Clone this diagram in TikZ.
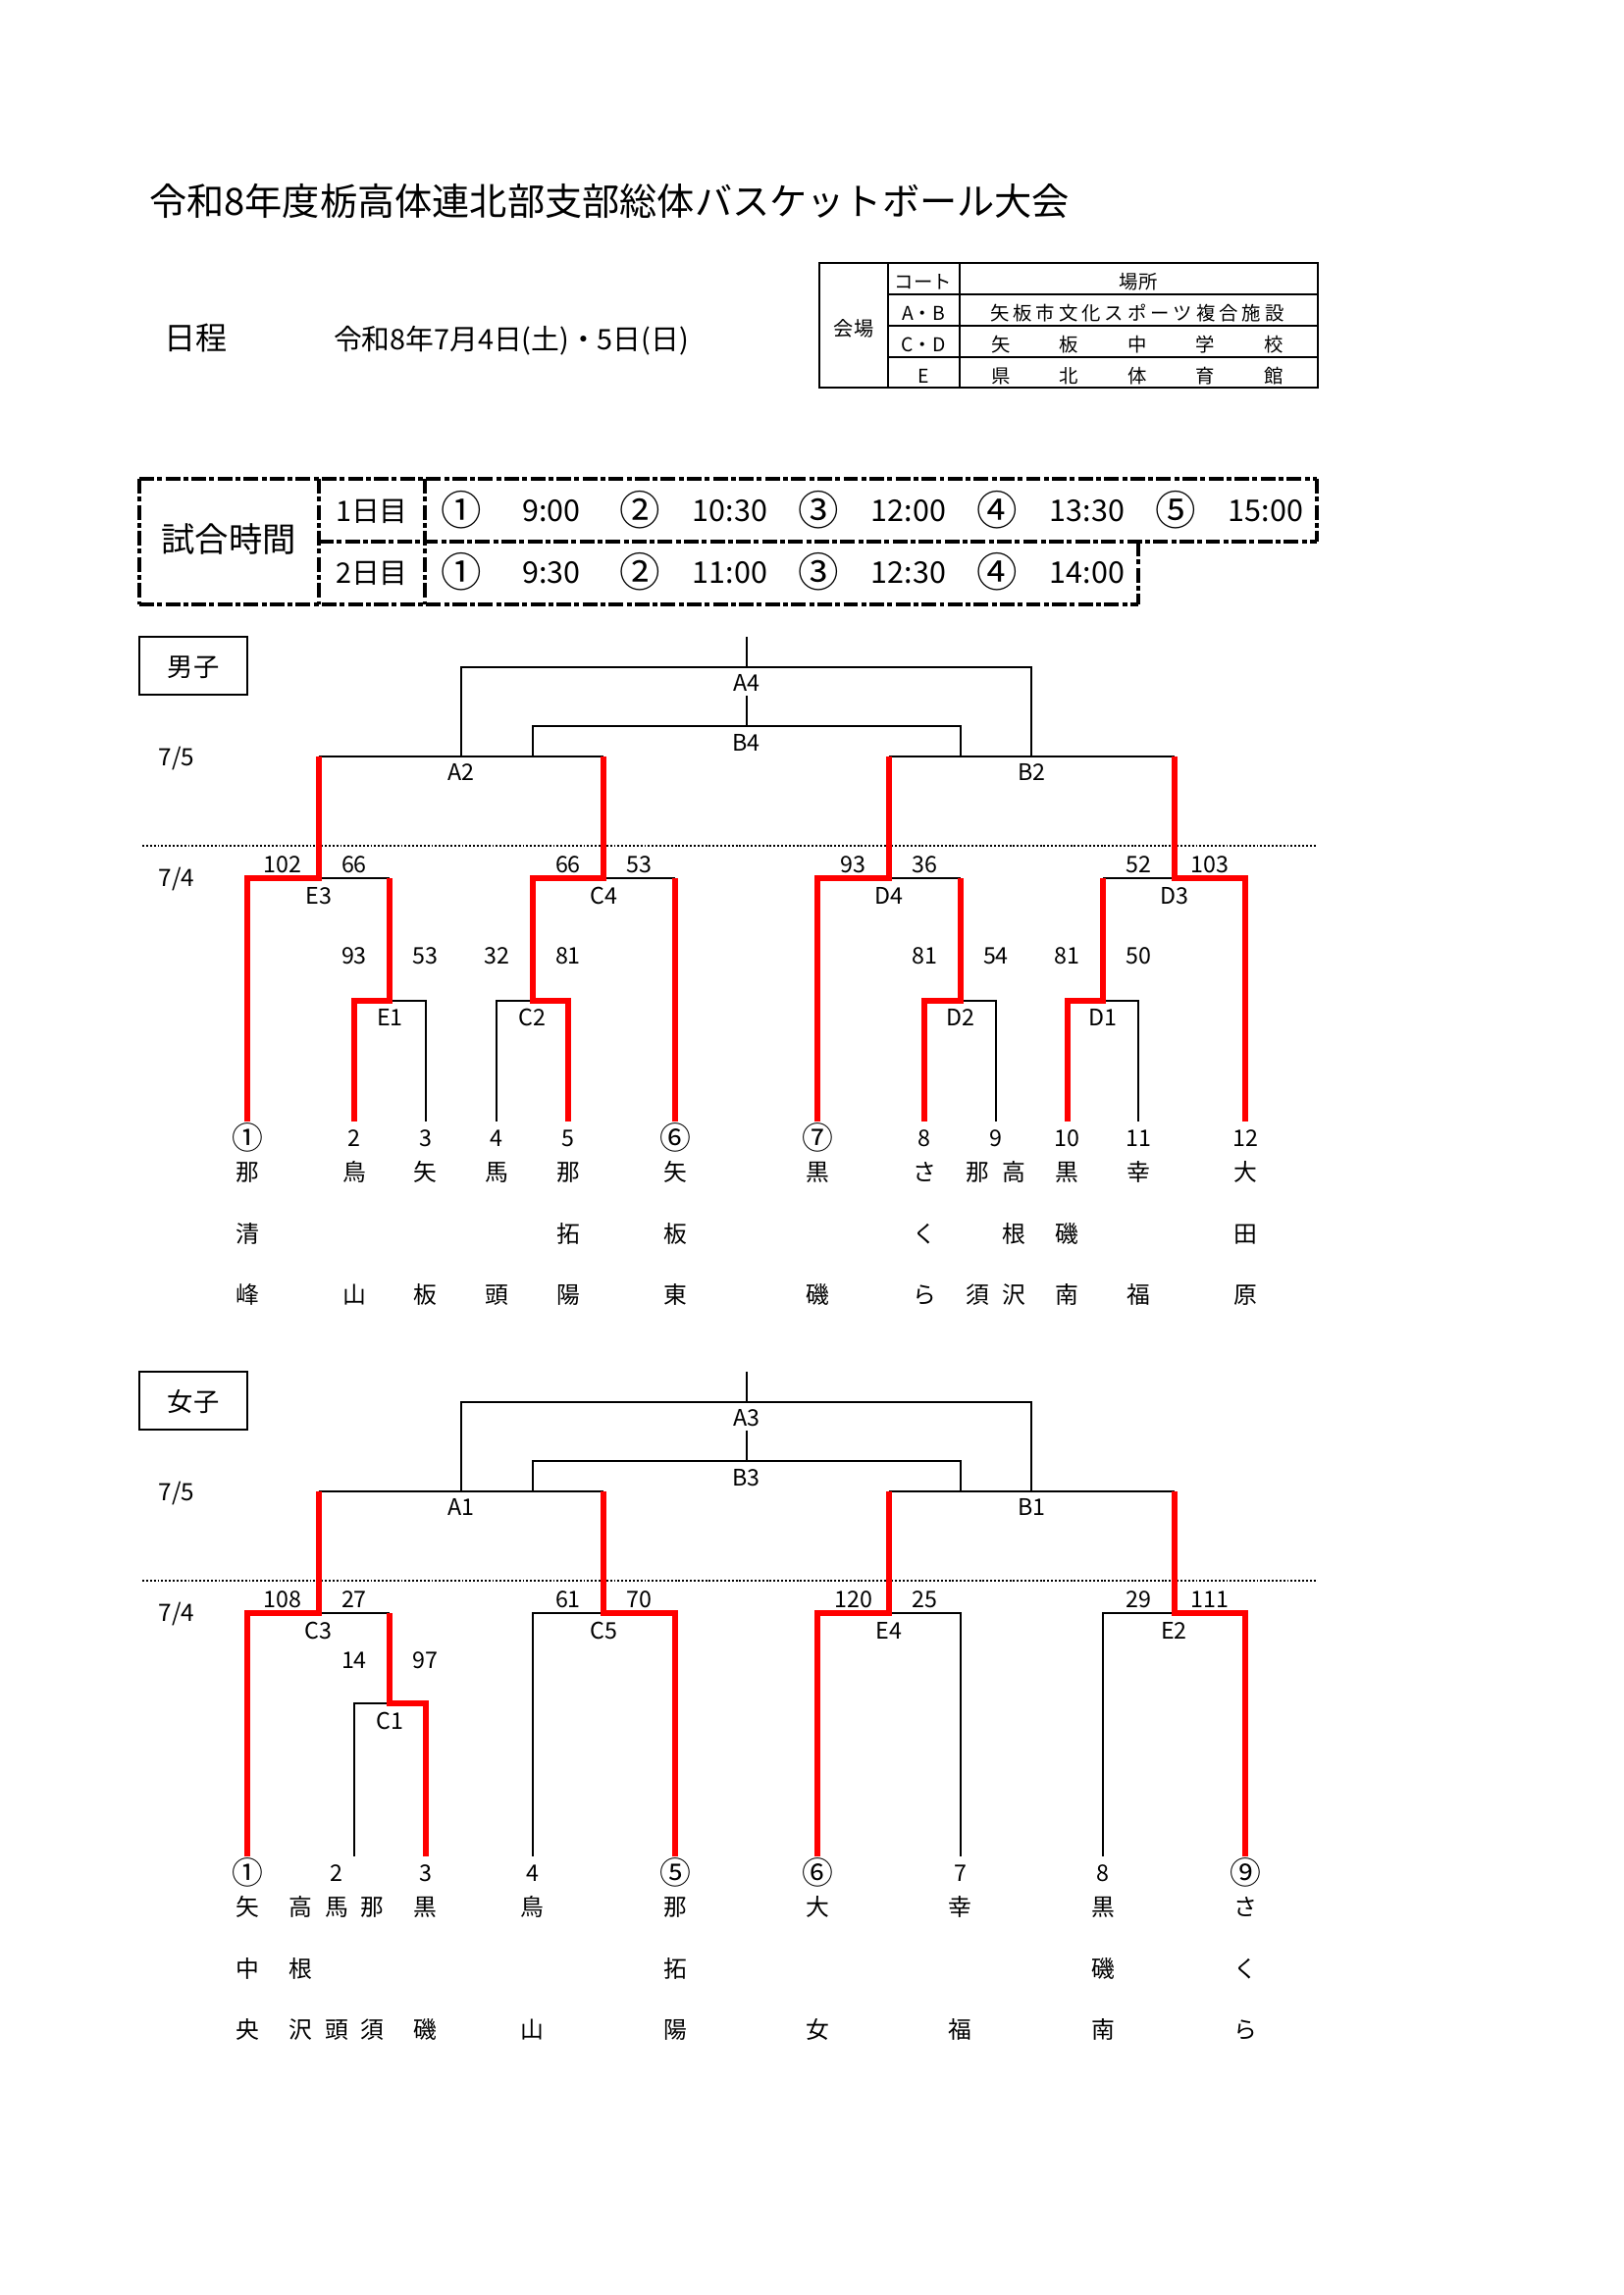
\documentclass[tikz,border=0pt]{standalone}
\usepackage{fontspec}
\setmainfont{Noto Sans CJK JP}
\definecolor{wred}{RGB}{255,0,0}
\newcommand\setfs[1]{\fontsize{#1}{#1}\selectfont}
\tikzset{
  tx/.style={inner sep=0pt, outer sep=0pt, text height=0.74em, text depth=0pt},
  lab/.style={tx, font=\setfs{8.4}},
  cir/.style={tx, font=\setfs{11.5}, yshift=-1.3pt},
  nm/.style={tx, font=\setfs{8.6}},
  tb/.style={tx, font=\setfs{7}},
  sc/.style={tx, font=\setfs{11}},
  cn/.style={tx, font=\setfs{15}, yshift=-1.5pt},
  blk/.style={line width=0.8pt, draw=black},
  rd/.style={line width=2.1pt, draw=wred, line join=miter},
  dsh/.style={line width=1.4pt, dash pattern=on 5.4pt off 1.2pt on 1.8pt off 1.2pt},
  dotl/.style={line width=0.6pt, dash pattern=on 0.7pt off 0.7pt},
}
\begin{document}
\begin{tikzpicture}[x=0.12697mm,y=-0.12697mm]
\useasboundingbox[fill=white] (0,0) rectangle (1654,2339);

% ---------- header ----------
\node[tx, anchor=west, font=\setfs{13.8}] (title) at (152,209) {令和8年度栃高体連北部支部総体バスケットボール大会};
\node[tx, anchor=west, font=\setfs{11.6}] (nittei) at (167,346) {日程};
\node[tx, anchor=west, font=\setfs{10.4}] (date) at (340,346) {令和8年7月4日(土)・5日(日)};

% ---------- venue table ----------
\draw[line width=0.9pt] (835,268) rectangle (1343,395);
\draw[line width=0.6pt] (905,268) -- (905,395);
\draw[line width=0.6pt] (978,268) -- (978,395);
\foreach \y in {300,332,364} \draw[line width=0.6pt] (905,\y) -- (1343,\y);
\node[tb, font=\setfs{7.3}] (kaijo) at (870,332) {会場};
\node[tb] (court) at (941,284) {コート};
\node[tb] (basho) at (1160,284) {場所};
\node[tb] (ab) at (941,316) {A・B};
\node[tb] (cd) at (941,348) {C・D};
\node[tb] (ee) at (941,380) {E};
\foreach \c [count=\i from 0] in {矢,板,市,文,化,ス,ポ,ー,ツ,複,合,施,設}
  \node[tb] (vab\i) at ({1019+23.33*\i},316) {\c};
\foreach \c [count=\i from 0] in {矢,板,中,学,校}
  \node[tb] (vcd\i) at ({1020+69.5*\i},348) {\c};
\foreach \c [count=\i from 0] in {県,北,体,育,館}
  \node[tb] (ve\i) at ({1020+69.5*\i},380) {\c};

% ---------- schedule box ----------
\draw[dsh] (142,488) -- (1342,488);
\draw[dsh] (1342,488) -- (1342,552);
\draw[dsh] (325,552) -- (1342,552);
\draw[dsh] (1160,552) -- (1160,616);
\draw[dsh] (142,616) -- (1160,616);
\draw[dsh] (142,488) -- (142,616);
\draw[dsh] (325,488) -- (325,616);
\draw[dsh] (433,488) -- (433,616);
\node[tx, font=\setfs{12.4}] (shiai) at (233,552) {試合時間};
\node[sc, font=\setfs{10.4}] (day1) at (379,521) {1日目};
\node[sc, font=\setfs{10.4}] (day2) at (379,584) {2日目};
\foreach \x/\t [count=\n] in {470/①,652/②,834/③,1016/④,1198/⑤}
  \node[cn] (d1c\n) at (\x,521) {\t};
\foreach \x/\t [count=\n] in {562/9:00,744/10:30,926/12:00,1108/13:30,1290/15:00}
  \node[sc] (d1t\n) at (\x,521) {\t};
\foreach \x/\t [count=\n] in {470/①,652/②,834/③,1016/④}
  \node[cn] (d2c\n) at (\x,584) {\t};
\foreach \x/\t [count=\n] in {562/9:30,744/11:00,926/12:30,1108/14:00}
  \node[sc] (d2t\n) at (\x,584) {\t};

% ---------- column coordinates ----------
\foreach \i in {0,...,28} \coordinate (c\i) at ({252+36.33*\i},0);

% ================= MEN =================
\draw[line width=0.9pt] (142,649) rectangle (252,708);
\node[tx, font=\setfs{9.5}] (boys) at (197,679) {男子};
\node[lab, font=\setfs{8.8}] (m75) at (180,770) {7/5};
\node[lab, font=\setfs{8.8}] (m74) at (180,893) {7/4};
\draw[dotl] (145,862) -- (1342,862);

\coordinate (mS0) at (0,649);
\coordinate (mA4) at (0,680);
\coordinate (mS1) at (0,709);
\coordinate (mB4) at (0,740);
\coordinate (mR3) at (0,771);
\coordinate (mR2) at (0,895);
\coordinate (mR1) at (0,1020);
\coordinate (mLf) at (0,1143);

\draw[blk] (c14|-mS0) -- (c14|-mA4);
\draw[blk] (c6|-mR3) |- (c22|-mA4) -- (c22|-mR3);
\draw[blk] (c14|-mS1) -- (c14|-mB4);
\draw[blk] (c8|-mR3) |- (c20|-mB4) -- (c20|-mR3);
\draw[blk] (c2|-mR3) -- (c10|-mR3);
\draw[blk] (c18|-mR3) -- (c26|-mR3);
\draw[blk] (c2|-mR2) -- (c4|-mR2);
\draw[blk] (c10|-mR2) -- (c12|-mR2);
\draw[blk] (c18|-mR2) -- (c20|-mR2);
\draw[blk] (c24|-mR2) -- (c26|-mR2);
\draw[blk] (c4|-mR1) -| (c5|-mLf);
\draw[blk] (c8|-mR1) -| (c7|-mLf);
\draw[blk] (c20|-mR1) -| (c21|-mLf);
\draw[blk] (c24|-mR1) -| (c25|-mLf);

\draw[rd] (c0|-mLf) |- (c2|-mR2) -- (c2|-mR3);
\draw[rd] (c3|-mLf) |- (c4|-mR1) -- (c4|-mR2);
\draw[rd] (c9|-mLf) |- (c8|-mR1) |- (c10|-mR2) -- (c10|-mR3);
\draw[rd] (c12|-mLf) -- (c12|-mR2);
\draw[rd] (c16|-mLf) |- (c18|-mR2) -- (c18|-mR3);
\draw[rd] (c19|-mLf) |- (c20|-mR1) -- (c20|-mR2);
\draw[rd] (c23|-mLf) |- (c24|-mR1) -- (c24|-mR2);
\draw[rd] (c28|-mLf) |- (c26|-mR2) -- (c26|-mR3);

\node[lab] (mlA4) at (c14|-0,694) {A4};
\node[lab] (mlB4) at (c14|-0,755) {B4};
\node[lab] (mlA2) at (c6|-0,785) {A2};
\node[lab] (mlB2) at (c22|-0,785) {B2};
\foreach \k/\t [count=\n] in {2/E3,10/C4,18/D4,26/D3}
  \node[lab] (mq\n) at (c\k|-0,911) {\t};
\foreach \k/\t [count=\n] in {4/E1,8/C2,20/D2,24/D1}
  \node[lab] (mr\n) at (c\k|-0,1035) {\t};
\foreach \k/\s [count=\n] in {1/102,3/66,9/66,11/53,17/93,19/36,25/52,27/103}
  \node[lab] (msq\n) at (c\k|-0,879) {\s};
\foreach \k/\s [count=\n] in {3/93,5/53,7/32,9/81,19/81,21/54,23/81,25/50}
  \node[lab] (msr\n) at (c\k|-0,972) {\s};

\foreach \x/\t [count=\n] in {361/2,433.7/3,506.3/4,579/5,942.3/8,1014.9/9,1087.6/10,1160.3/11,1269.2/12}
  \node[lab] (mnum\n) at (\x,1158) {\t};
\foreach \x/\t [count=\n] in {252/①,688/⑥,833.3/⑦}
  \node[cir] (mcir\n) at (\x,1158) {\t};
\foreach \x/\a/\b/\c [count=\n] in {252/那/清/峰,361/鳥//山,433.7/矢//板,506.3/馬//頭,579/那/拓/陽,688/矢/板/東,833.3/黒//磯,942.3/さ/く/ら,996.6/那//須,1033/高/根/沢,1087.6/黒/磯/南,1160.3/幸//福,1269.2/大/田/原}
{
  \node[nm] (mta\n) at (\x,1193) {\a};
  \node[nm] (mtb\n) at (\x,1256) {\b};
  \node[nm] (mtc\n) at (\x,1318) {\c};
}

% ================= WOMEN =================
\draw[line width=0.9pt] (142,1398) rectangle (252,1457);
\node[tx, font=\setfs{9.5}] (girls) at (197,1428) {女子};
\node[lab, font=\setfs{8.8}] (w75) at (180,1519) {7/5};
\node[lab, font=\setfs{8.8}] (w74) at (180,1642) {7/4};
\draw[dotl] (145,1611) -- (1342,1611);

\coordinate (wS0) at (0,1398);
\coordinate (wA3) at (0,1429);
\coordinate (wS1) at (0,1458);
\coordinate (wB3) at (0,1489);
\coordinate (wR3) at (0,1520);
\coordinate (wR2) at (0,1644);
\coordinate (wR1) at (0,1736);
\coordinate (wLf) at (0,1892);

\draw[blk] (c14|-wS0) -- (c14|-wA3);
\draw[blk] (c6|-wR3) |- (c22|-wA3) -- (c22|-wR3);
\draw[blk] (c14|-wS1) -- (c14|-wB3);
\draw[blk] (c8|-wR3) |- (c20|-wB3) -- (c20|-wR3);
\draw[blk] (c2|-wR3) -- (c10|-wR3);
\draw[blk] (c18|-wR3) -- (c26|-wR3);
\draw[blk] (c2|-wR2) -- (c4|-wR2);
\draw[blk] (c10|-wR2) -| (c8|-wLf);
\draw[blk] (c18|-wR2) -| (c20|-wLf);
\draw[blk] (c26|-wR2) -| (c24|-wLf);
\draw[blk] (c4|-wR1) -| (c3|-wLf);

\draw[rd] (c0|-wLf) |- (c2|-wR2) -- (c2|-wR3);
\draw[rd] (c5|-wLf) |- (c4|-wR1) -- (c4|-wR2);
\draw[rd] (c12|-wLf) |- (c10|-wR2) -- (c10|-wR3);
\draw[rd] (c16|-wLf) |- (c18|-wR2) -- (c18|-wR3);
\draw[rd] (c28|-wLf) |- (c26|-wR2) -- (c26|-wR3);

\node[lab] (wlA3) at (c14|-0,1443) {A3};
\node[lab] (wlB3) at (c14|-0,1504) {B3};
\node[lab] (wlA1) at (c6|-0,1534) {A1};
\node[lab] (wlB1) at (c22|-0,1534) {B1};
\foreach \k/\t [count=\n] in {2/C3,10/C5,18/E4,26/E2}
  \node[lab] (wq\n) at (c\k|-0,1660) {\t};
\node[lab] (wC1) at (c4|-0,1752) {C1};
\foreach \k/\s [count=\n] in {1/108,3/27,9/61,11/70,17/120,19/25,25/29,27/111}
  \node[lab] (wsq\n) at (c\k|-0,1628) {\s};
\node[lab] (wsr1) at (c3|-0,1690) {14};
\node[lab] (wsr2) at (c5|-0,1690) {97};

\foreach \x/\t [count=\n] in {343/2,433.7/3,542.6/4,978.6/7,1123.9/8}
  \node[lab] (wnum\n) at (\x,1907) {\t};
\foreach \x/\t [count=\n] in {252/①,688/⑤,833.3/⑥,1269.2/⑨}
  \node[cir] (wcir\n) at (\x,1907) {\t};
\foreach \x/\a/\b/\c [count=\n] in {252/矢/中/央,306.5/高/根/沢,343/馬//頭,379.5/那//須,433.7/黒//磯,542.6/鳥//山,688/那/拓/陽,833.3/大//女,978.6/幸//福,1123.9/黒/磯/南,1269.2/さ/く/ら}
{
  \node[nm] (wta\n) at (\x,1942) {\a};
  \node[nm] (wtb\n) at (\x,2005) {\b};
  \node[nm] (wtc\n) at (\x,2067) {\c};
}
\end{tikzpicture}
\end{document}
